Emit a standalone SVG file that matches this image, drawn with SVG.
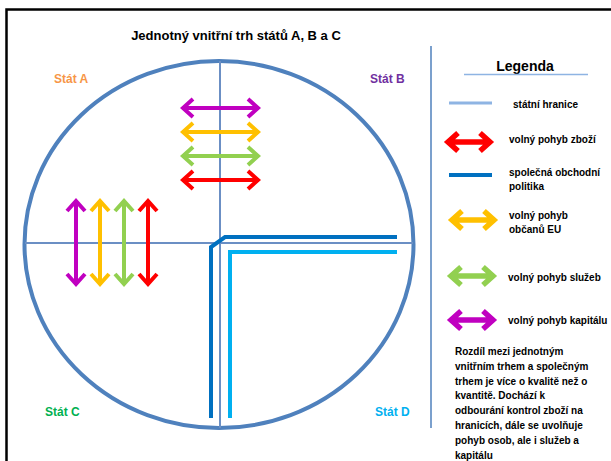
<svg xmlns="http://www.w3.org/2000/svg" width="611" height="461" viewBox="0 0 611 461">
  <defs>
    <style>
      text { font-family: "Liberation Sans", Arial, sans-serif; font-weight: bold; }
      .title { font-size: 13px; fill: #000; }
      .state { font-size: 12px; }
      .leg { font-size: 10px; fill: #000; }
      .para { font-size: 10px; fill: #000; }
      .arrow { fill: none; stroke-width: 4; stroke-linecap: butt; stroke-linejoin: miter; }
      .legarrow { fill: none; stroke-width: 5.5; stroke-linecap: butt; stroke-linejoin: miter; }
      .border { stroke: #6B8FC4; stroke-width: 2; fill: none; }
    </style>
  </defs>

  <rect x="0" y="0" width="611" height="461" fill="#fff"/>
  <!-- outer frame -->
  <rect x="6.5" y="9.5" width="700" height="500" fill="none" stroke="#000" stroke-width="2.5"/>

  <text class="title" x="236" y="40" text-anchor="middle">Jednotný vnitřní trh států A, B a C</text>

  <!-- territory of the single market -->
  <g id="market">
    <ellipse cx="219" cy="244.5" rx="194.5" ry="183.5" fill="none" stroke="#4F81BD" stroke-width="4"/>
  </g>

  <!-- state borders -->
  <g id="borders">
    <line class="border" x1="220" y1="61" x2="220" y2="428"/>
    <line class="border" x1="25" y1="243" x2="413" y2="243"/>
  </g>

  <!-- common commercial policy -->
  <g id="trade-policy">
    <path d="M211 418 L211 247 L225 237 L397 237" fill="none" stroke="#0070C0" stroke-width="4"/>
    <path d="M230 418 L230 252 L397 252" fill="none" stroke="#00B0F0" stroke-width="4"/>
  </g>

  <!-- state labels -->
  <g id="state-a"><text class="state" x="54" y="83" fill="#F79646">Stát A</text></g>
  <g id="state-b"><text class="state" x="370" y="83" fill="#7030A0">Stát B</text></g>
  <g id="state-c"><text class="state" x="45" y="416" fill="#00B050">Stát C</text></g>
  <g id="state-d"><text class="state" x="375" y="416" fill="#00B0F0">Stát D</text></g>

  <!-- freedoms crossing the A/B border -->
  <g id="freedoms-horizontal">
    <path class="arrow" stroke="#C000C0" d="M183 108 H258 M193 99 L183 108 L193 117 M248 99 L258 108 L248 117"/>
    <path class="arrow" stroke="#FFC000" d="M183 132 H258 M193 123 L183 132 L193 141 M248 123 L258 132 L248 141"/>
    <path class="arrow" stroke="#92D050" d="M183 156 H258 M193 147 L183 156 L193 165 M248 147 L258 156 L248 165"/>
    <path class="arrow" stroke="#FF0000" d="M183 180 H258 M193 171 L183 180 L193 189 M248 171 L258 180 L248 189"/>
  </g>

  <!-- freedoms crossing the A/C border -->
  <g id="freedoms-vertical">
    <path class="arrow" stroke="#C000C0" d="M76 201 V284 M67 211 L76 201 L85 211 M67 274 L76 284 L85 274"/>
    <path class="arrow" stroke="#FFC000" d="M100 201 V284 M91 211 L100 201 L109 211 M91 274 L100 284 L109 274"/>
    <path class="arrow" stroke="#92D050" d="M124 201 V284 M115 211 L124 201 L133 211 M115 274 L124 284 L133 274"/>
    <path class="arrow" stroke="#FF0000" d="M148 201 V284 M139 211 L148 201 L157 211 M139 274 L148 284 L157 274"/>
  </g>

  <!-- legend -->
  <g id="legend">
    <line x1="431" y1="46" x2="431" y2="428" stroke="#4F81BD" stroke-width="1.5"/>
    <text x="525" y="71" font-size="14" text-anchor="middle" fill="#000">Legenda</text>
    <line x1="464" y1="74.5" x2="588" y2="74.5" stroke="#8EB4E3" stroke-width="1.5"/>

    <line x1="449" y1="103" x2="492" y2="103" stroke="#8EB4E3" stroke-width="3"/>
    <text class="leg" x="513" y="108">státní hranice</text>

    <path class="legarrow" stroke="#FF0000" d="M447 142 H491 M458 133 L448 142 L458 151 M480 133 L490 142 L480 151"/>
    <text class="leg" x="509" y="143">volný pohyb zboží</text>

    <line x1="449" y1="175" x2="492" y2="175" stroke="#0070C0" stroke-width="4"/>
    <text class="leg" x="509" y="176">společná obchodní</text>
    <text class="leg" x="509" y="190">politika</text>

    <path class="legarrow" stroke="#FFC000" d="M451 220 H495 M462 211 L452 220 L462 229 M484 211 L494 220 L484 229"/>
    <text class="leg" x="509" y="219">volný pohyb</text>
    <text class="leg" x="509" y="233">občanů EU</text>

    <path class="legarrow" stroke="#92D050" d="M450 276 H494 M461 267 L451 276 L461 285 M483 267 L493 276 L483 285"/>
    <text class="leg" x="508" y="281">volný pohyb služeb</text>

    <path class="legarrow" stroke="#C000C0" d="M450 320 H494 M461 311 L451 320 L461 329 M483 311 L493 320 L483 329"/>
    <text class="leg" x="508" y="324">volný pohyb kapitálu</text>

    <text class="para" x="455" y="355">Rozdíl mezi jednotným</text>
    <text class="para" x="455" y="369.8">vnitřním trhem a společným</text>
    <text class="para" x="455" y="384.6">trhem je více o kvalitě než o</text>
    <text class="para" x="455" y="399.4">kvantitě.  Dochází k</text>
    <text class="para" x="455" y="414.2">odbourání kontrol zboží na</text>
    <text class="para" x="455" y="429">hranicích, dále se uvolňuje</text>
    <text class="para" x="455" y="443.8">pohyb osob, ale i služeb a</text>
    <text class="para" x="455" y="458.6">kapitálu</text>
  </g>
</svg>
